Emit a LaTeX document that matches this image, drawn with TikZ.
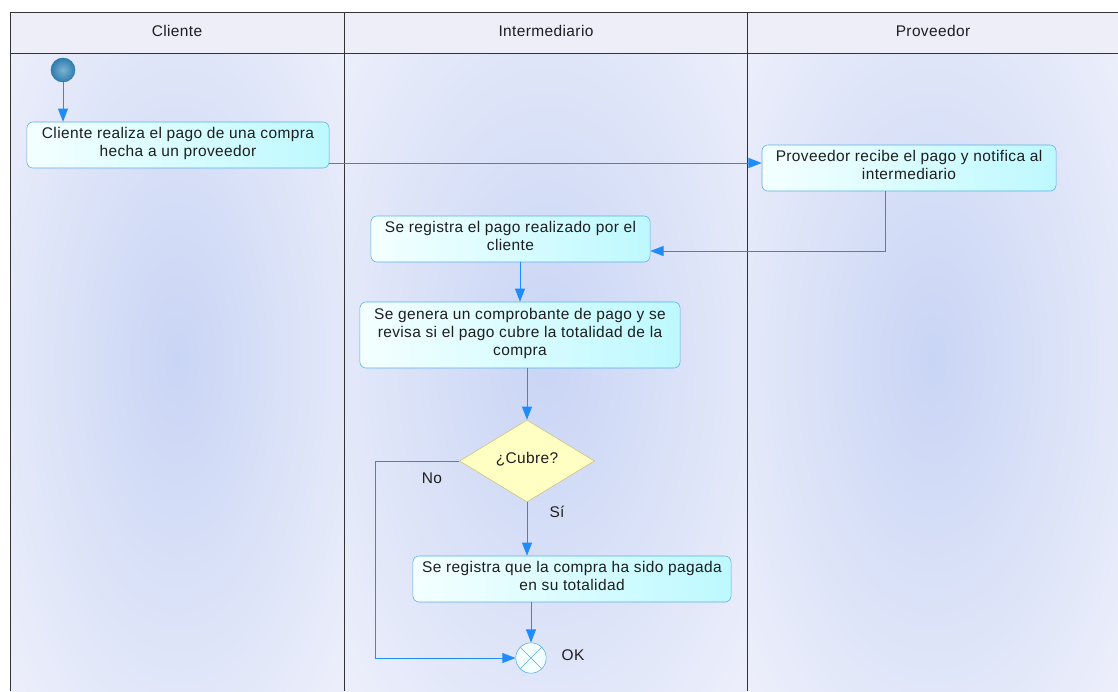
\documentclass[tikz,border=0pt]{standalone}
\usepackage{fontspec}
\setmainfont{Liberation Sans}[LetterSpace=2.5]
\usetikzlibrary{arrows.meta,shapes.geometric}

\definecolor{lane}{HTML}{EEF0FB}
\definecolor{glow}{HTML}{C9D5F5}
\definecolor{headfill}{HTML}{EEEEF9}
\definecolor{frameline}{HTML}{333333}
\definecolor{flowblue}{HTML}{1E8CFF}
\definecolor{boxline}{HTML}{5AAEE6}
\definecolor{boxfill}{HTML}{BDF9FF}
\definecolor{boxlight}{HTML}{F4FFFF}
\definecolor{decfill}{HTML}{FFFFC4}
\definecolor{decline}{HTML}{C8C27A}
\definecolor{startdark}{HTML}{2F7DAE}
\definecolor{startlight}{HTML}{7DB3D3}
\definecolor{txt}{HTML}{1E1E1E}

\tikzset{
  activity/.style={draw=boxline, rounded corners=0.15cm, left color=boxlight,
    right color=boxfill, align=center, inner sep=0, minimum height=1.15cm,
    text depth=0.15cm, text=txt, font=\fontsize{11}{12.8}\selectfont},
  flow/.style={draw=flowblue, line width=0.7pt,
    -{Triangle[length=0.33cm,width=0.25cm]}},
  lbl/.style={text=txt, font=\fontsize{11}{12.8}\selectfont},
}

\begin{document}
\begin{tikzpicture}[x=0.025cm,y=-0.025cm]
\useasboundingbox (0,0) rectangle (1118,691);
\fill[white] (0,0) rectangle (1118,691);

% Swimlanes
\foreach \xa/\xb in {10/344, 344/747, 747/1118} {
  \begin{scope}
    \clip (\xa,53) rectangle (\xb,691);
    \fill[lane] (\xa,53) rectangle (\xb,691);
    \shade[inner color=glow, outer color=lane]
      ({1.2*\xa-0.2*\xb},-150) rectangle ({1.2*\xb-0.2*\xa},870);
  \end{scope}
}
\fill[headfill] (10,12) rectangle (1118,53);
\draw[frameline, line width=0.7pt] (10,691) -- (10,12) -- (1118,12);
\draw[frameline, line width=0.7pt] (10,53) -- (1118,53);
\draw[frameline, line width=0.7pt] (344,12) -- (344,691);
\draw[frameline, line width=0.7pt] (747,12) -- (747,691);
\node[lbl] (hCliente) at (177,31) {Cliente};
\node[lbl] (hInter) at (546,31) {Intermediario};
\node[lbl] (hProv) at (933,31) {Proveedor};

% Activities
\node[circle, draw=startdark, inner color=startlight, outer color=startdark,
  minimum size=0.6cm, inner sep=0] (start) at (63,70) {};
\node[activity, minimum width=7.55cm] (pago) at (178,145)
  {Cliente realiza el pago de una compra\\hecha a un proveedor};
\node[activity, minimum width=7.35cm] (recibe) at (909,168)
  {Proveedor recibe el pago y notifica al\\intermediario};
\node[activity, minimum width=6.975cm] (registra) at (510.5,239)
  {Se registra el pago realizado por el\\cliente};
\node[activity, minimum width=8cm, minimum height=1.65cm] (genera) at (520,335)
  {Se genera un comprobante de pago y se\\revisa si el pago cubre la totalidad de la\\compra};
\node[diamond, draw=decline, fill=decfill, aspect=1.65, minimum width=3.375cm,
  minimum height=2.05cm, inner sep=0, text=txt,
  font=\fontsize{11}{12.8}\selectfont] (cubre) at (527,461) {\raisebox{1.5mm}{¿Cubre?}};
\node[activity, minimum width=7.95cm] (total) at (572,579)
  {Se registra que la compra ha sido pagada\\en su totalidad};
\node[circle, draw=boxline, fill=boxlight, minimum size=0.76cm, inner sep=0]
  (done) at (531,658) {};
\draw[boxline] (done.north east) -- (done.south west)
  (done.north west) -- (done.south east);

% Connectors
\coordinate (ab) at (0,163);
\coordinate (nocorner) at (375,658);
\draw[flow] (start.south) -- (start.south |- pago.north);
\draw[flow] (pago.east |- ab) -- (recibe.west |- ab);
\draw[flow] ([xshift=-0.6cm]recibe.south) |- ([yshift=-0.3cm]registra.east);
\draw[flow] (registra.south -| genera.north) -- (genera.north);
\draw[flow] (genera.south -| cubre.north) -- (cubre.north);
\draw[flow] (cubre.south) -- (cubre.south |- total.north);
\draw[flow] (total.south -| done.north) -- (done.north);
\draw[flow] (cubre.west) -| (nocorner) -- (done.west);

% Labels
\node[lbl] (lblNo) at (432,478) {No};
\node[lbl] (lblSi) at (557,512) {Sí};
\node[lbl] (lblOk) at (573,655) {OK};
\end{tikzpicture}
\end{document}
